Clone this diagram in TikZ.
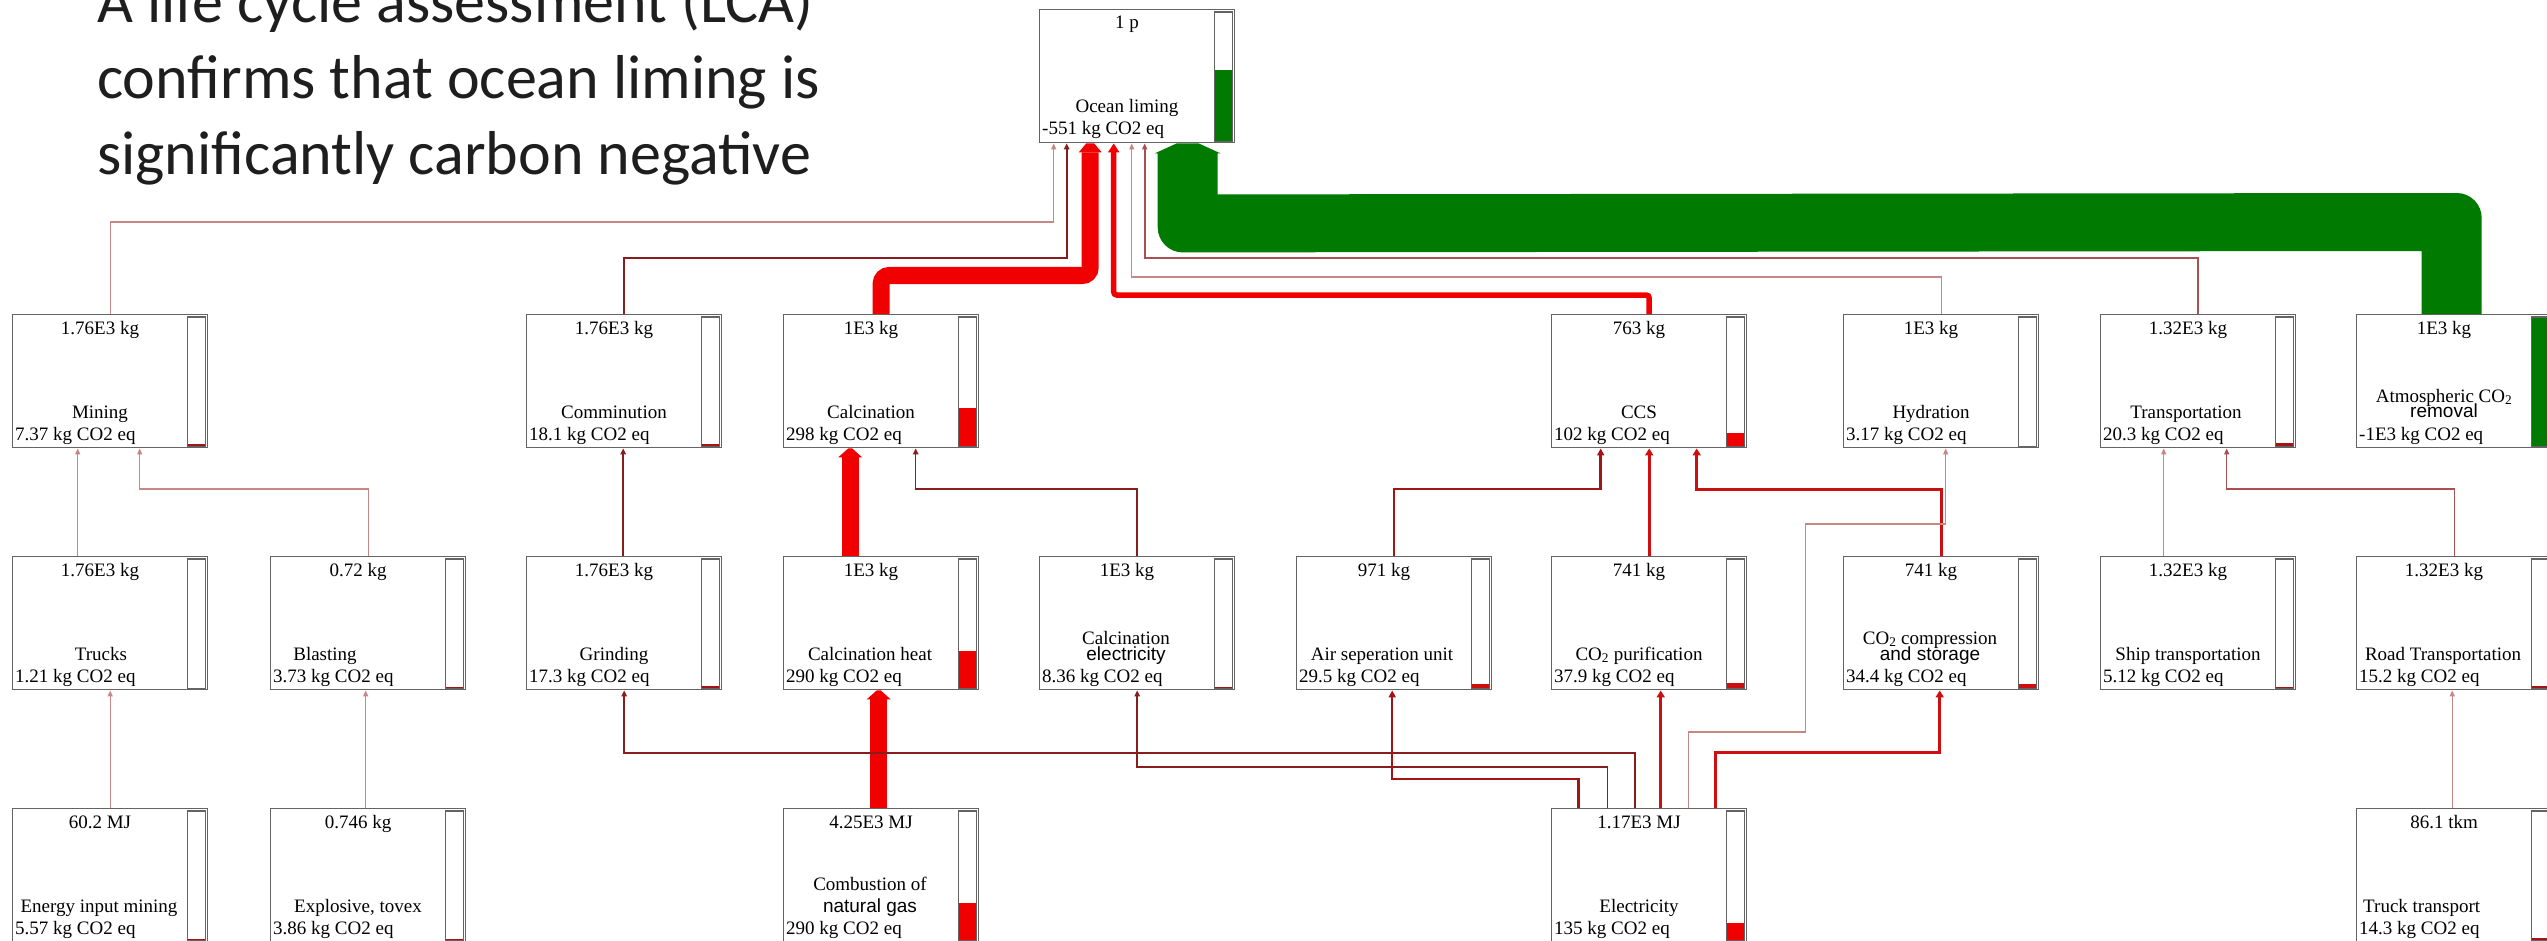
\documentclass[tikz,border=0pt]{standalone}
\usepackage{fontspec}
\setmainfont{Liberation Serif}
\newfontfamily\sansf{Liberation Sans}
\newfontfamily\titlef{Carlito}
\usetikzlibrary{calc,arrows.meta}

\definecolor{boxline}{RGB}{100,100,100}
\definecolor{lite}{RGB}{200,135,135}
\definecolor{midc}{RGB}{170,80,80}
\definecolor{darkc}{RGB}{135,30,30}
\definecolor{darkred}{RGB}{165,20,20}
\definecolor{redm}{RGB}{205,15,15}
\definecolor{redb}{RGB}{240,0,0}
\definecolor{grn}{RGB}{0,122,0}
\definecolor{titlec}{RGB}{30,30,30}

\tikzset{
  procbox/.style={draw=boxline, line width=1.4pt, fill=white, minimum width=195pt,
    minimum height=133pt, anchor=north west, inner sep=0pt},
  amt/.style={anchor=base, font=\fontsize{19}{22}\selectfont, inner sep=0pt},
  nm/.style={anchor=base, font=\fontsize{19}{22}\selectfont, inner sep=0pt},
  nms/.style={anchor=base, font=\sansf\fontsize{19}{22}\selectfont, inner sep=0pt},
  val/.style={anchor=base west, font=\fontsize{19}{22}\selectfont, inner sep=0pt},
  bar/.style={draw=boxline, line width=1.3pt, fill=white},
  ttl/.style={anchor=base west, font=\titlef\fontsize{62}{76}\selectfont, text=titlec, inner sep=0pt},
  flowlite/.style={draw=lite, line width=1.3pt, -{Triangle[length=6pt,width=5pt]}},
  flowmid/.style={draw=midc, line width=1.6pt, -{Triangle[length=6pt,width=5pt]}},
  flowdark/.style={draw=darkc, line width=1.8pt, -{Triangle[length=6pt,width=5.5pt]}},
  flowdr/.style={draw=darkred, line width=2.5pt, -{Triangle[length=7pt,width=7pt]}},
  flowred/.style={draw=redm, line width=3pt, -{Triangle[length=7pt,width=8pt]}},
  flowccs/.style={draw=redb, line width=5.5pt, rounded corners=3pt, -{Triangle[length=9pt,width=11pt]}},
  thickred/.style={draw=redb, line width=17pt},
}

\newcommand\procbox[7]{%
  \node[procbox] (#1) at (#2,#3) {};
  \draw[bar] ($(#1.north east)+(-21,3)$) rectangle ($(#1.south east)+(-3,-2)$);
  \ifdim #6pt>0pt
    \fill[#7] ($(#1.south east)+(-20.3,-2.5)$) rectangle ($(#1.south east)+(-3.7,{-2.5-#6})$);
  \fi
  \node[amt] (#1-a) at ($(#1.north west)+(88,20)$) {#4};
  \node[val] (#1-v) at ($(#1.north west)+(3,126)$) {#5};
}

\begin{document}
\begin{tikzpicture}[x=1pt,y=-1pt]
\useasboundingbox (0,0) rectangle (2547,941);
\clip (0,0) rectangle (2547,941);
\fill[white] (0,0) rectangle (2547,941);

% title
\node[ttl] (t1) at (97,23) {A life cycle assessment (LCA)};
\node[ttl] (t2) at (97,99) {confirms that ocean liming is};
\node[ttl] (t3) at (97,175) {significantly carbon negative};

% top box
\procbox{ocean}{1039}{9}{1 p}{-551 kg CO2 eq}{70.5}{grn}
\node[nm] (ocean-n) at ($(ocean.north west)+(88,104)$) {Ocean liming};

% row 1
\procbox{mining}{12}{314}{1.76E3 kg}{7.37 kg CO2 eq}{1.5}{darkred}
\node[nm] (mining-n) at ($(mining.north west)+(88,104)$) {Mining};
\procbox{comminution}{526}{314}{1.76E3 kg}{18.1 kg CO2 eq}{2.3}{darkred}
\node[nm] (comminution-n) at ($(comminution.north west)+(88,104)$) {Comminution};
\procbox{calcination}{783}{314}{1E3 kg}{298 kg CO2 eq}{38}{redb}
\node[nm] (calcination-n) at ($(calcination.north west)+(88,104)$) {Calcination};
\procbox{ccs}{1551}{314}{763 kg}{102 kg CO2 eq}{13}{redb}
\node[nm] (ccs-n) at ($(ccs.north west)+(88,104)$) {CCS};
\procbox{hydration}{1843}{314}{1E3 kg}{3.17 kg CO2 eq}{0}{darkred}
\node[nm] (hydration-n) at ($(hydration.north west)+(88,104)$) {Hydration};
\procbox{transport}{2100}{314}{1.32E3 kg}{20.3 kg CO2 eq}{2.6}{darkred}
\node[nm] (transport-n) at ($(transport.north west)+(86,104)$) {Transportation};
\procbox{atmos}{2356}{314}{1E3 kg}{-1E3 kg CO2 eq}{128}{grn}
\node[nm] (atmos-n) at ($(atmos.north west)+(88,88)$) {Atmospheric CO\textsubscript{2}};
\node[nms] (atmos-n2) at ($(atmos.north west)+(88,103)$) {removal};

% row 2
\procbox{trucks}{12}{556}{1.76E3 kg}{1.21 kg CO2 eq}{0}{darkred}
\node[nm] (trucks-n) at ($(trucks.north west)+(89,104)$) {Trucks};
\procbox{blasting}{270}{556}{0.72 kg}{3.73 kg CO2 eq}{1}{darkred}
\node[nm] (blasting-n) at ($(blasting.north west)+(55,104)$) {Blasting};
\procbox{grinding}{526}{556}{1.76E3 kg}{17.3 kg CO2 eq}{2.2}{darkred}
\node[nm] (grinding-n) at ($(grinding.north west)+(88,104)$) {Grinding};
\procbox{calcheat}{783}{556}{1E3 kg}{290 kg CO2 eq}{37}{redb}
\node[nm] (calcheat-n) at ($(calcheat.north west)+(87,104)$) {Calcination heat};
\procbox{calcelec}{1039}{556}{1E3 kg}{8.36 kg CO2 eq}{1.2}{darkred}
\node[nm] (calcelec-n) at ($(calcelec.north west)+(87,88)$) {Calcination};
\node[nms] (calcelec-n2) at ($(calcelec.north west)+(87,104)$) {electricity};
\procbox{airsep}{1296}{556}{971 kg}{29.5 kg CO2 eq}{3.8}{redm}
\node[nm] (airsep-n) at ($(airsep.north west)+(86,104)$) {Air seperation unit};
\procbox{co2purif}{1551}{556}{741 kg}{37.9 kg CO2 eq}{4.9}{redm}
\node[nm] (co2purif-n) at ($(co2purif.north west)+(88,104)$) {CO\textsubscript{2} purification};
\procbox{co2comp}{1843}{556}{741 kg}{34.4 kg CO2 eq}{4.4}{redm}
\node[nm] (co2comp-n) at ($(co2comp.north west)+(87,88)$) {CO\textsubscript{2} compression};
\node[nms] (co2comp-n2) at ($(co2comp.north west)+(87,104)$) {and storage};
\procbox{ship}{2100}{556}{1.32E3 kg}{5.12 kg CO2 eq}{1}{darkred}
\node[nm] (ship-n) at ($(ship.north west)+(88,104)$) {Ship transportation};
\procbox{road}{2356}{556}{1.32E3 kg}{15.2 kg CO2 eq}{2}{darkred}
\node[nm] (road-n) at ($(road.north west)+(87,104)$) {Road Transportation};

% row 3
\procbox{energy}{12}{808}{60.2 MJ}{5.57 kg CO2 eq}{1}{darkred}
\node[nm] (energy-n) at ($(energy.north west)+(87,104)$) {Energy input mining};
\procbox{explosive}{270}{808}{0.746 kg}{3.86 kg CO2 eq}{1}{darkred}
\node[nm] (explosive-n) at ($(explosive.north west)+(88,104)$) {Explosive, tovex};
\procbox{combustion}{783}{808}{4.25E3 MJ}{290 kg CO2 eq}{37}{redb}
\node[nm] (combustion-n) at ($(combustion.north west)+(87,82)$) {Combustion of};
\node[nms] (combustion-n2) at ($(combustion.north west)+(87,104)$) {natural gas};
\procbox{electricity}{1551}{808}{1.17E3 MJ}{135 kg CO2 eq}{17}{redb}
\node[nm] (electricity-n) at ($(electricity.north west)+(88,104)$) {Electricity};
\procbox{trucktr}{2356}{808}{86.1 tkm}{14.3 kg CO2 eq}{1.8}{darkred}
\node[nm, anchor=base west] (trucktr-n) at ($(trucktr.north west)+(7,104)$) {Truck transport};

% ---- connectors into Ocean liming
\draw[flowlite] (mining.north) -- ++(0,-92) -| ([xshift=-83.5pt]ocean.south);
\draw[flowdark] (comminution.north) -- ++(0,-56) -| ([xshift=-70.5pt]ocean.south);
\draw[thickred, rounded corners=8pt] (calcination.north) -- ++(0,-38.5) -| ([xshift=-47pt,yshift=-9pt]ocean.south);
\fill[redb] ([xshift=-58.5pt,yshift=-9pt]ocean.south) -- ([xshift=-51pt]ocean.south) -- ([xshift=-43pt]ocean.south) -- ([xshift=-35.5pt,yshift=-9pt]ocean.south) -- cycle;
\draw[flowccs] (ccs.north) -- ++(0,-19) -| ([xshift=-23.5pt]ocean.south);
\draw[flowlite] (hydration.north) -- ++(0,-37) -| ([xshift=-5.5pt]ocean.south);
\draw[flowmid] (transport.north) -- ++(0,-56) -| ([xshift=7.5pt]ocean.south);
\fill[grn] ($(ocean.south)+(20.5,10)$) -- ($(ocean.south)+(17.5,10)$) -- ($(ocean.south)+(39.5,0)$)
  -- ($(ocean.south)+(61.5,0)$) -- ($(ocean.south)+(83.5,10)$) -- ($(ocean.south)+(80.5,10)$)
  -- ($(ocean.south)+(80.5,51)$) -- ($(atmos.north)+(2.5,-121)$) arc[start angle=90,end angle=0,radius=25pt]
  -- ($(atmos.north)+(27.5,0)$) -- ($(atmos.north)+(-32.5,0)$) -- ($(atmos.north)+(-32.5,-63)$)
  -- ($(ocean.south)+(45.5,109)$) arc[start angle=270,end angle=180,radius=25pt] -- cycle;

% ---- row 2 -> row 1
\draw[flowlite] ([xshift=-32.5pt]trucks.north) -- ([xshift=-32.5pt]mining.south);
\draw[flowlite] (blasting.north) -- ++(0,-67) -| ([xshift=29.5pt]mining.south);
\draw[flowdark] ([xshift=-1pt]grinding.north) -- ([xshift=-1pt]comminution.south);
\draw[thickred] ([xshift=-31pt]calcheat.north) -- ([xshift=-31pt,yshift=-9pt]calcination.south);
\fill[redb] ([xshift=-43pt,yshift=-9pt]calcination.south) -- ([xshift=-33pt]calcination.south) -- ([xshift=-29pt]calcination.south) -- ([xshift=-19pt,yshift=-9pt]calcination.south) -- cycle;
\draw[flowdark, line width=1.5pt] (calcelec.north) -- ++(0,-67) -| ([xshift=34.5pt]calcination.south);
\draw[flowdr] (airsep.north) -- ++(0,-67) -| ([xshift=-48.5pt]ccs.south);
\draw[flowred] (co2purif.north) -- (ccs.south);
\draw[flowred] (co2comp.north) -- ++(0,-67) -| ([xshift=47.5pt]ccs.south);
\draw[flowlite] ([xshift=-34.5pt]ship.north) -- ([xshift=-34.5pt]transport.south);
\draw[flowmid, line width=1.4pt] (road.north) -- ++(0,-67) -| ([xshift=28.5pt]transport.south);

% ---- row 3 -> row 2
\draw[flowlite] (energy.north) -- (trucks.south);
\draw[flowlite] ([xshift=-2.5pt]explosive.north) -- ([xshift=-2.5pt]blasting.south);
\draw[thickred] ([xshift=-2.5pt]combustion.north) -- ([xshift=-2.5pt,yshift=-9pt]calcheat.south);
\fill[redb] ([xshift=-14.5pt,yshift=-9pt]calcheat.south) -- ([xshift=-4.5pt]calcheat.south) -- ([xshift=-0.5pt]calcheat.south) -- ([xshift=9.5pt,yshift=-9pt]calcheat.south) -- cycle;
\draw[flowdark] ([xshift=-14.5pt]electricity.north) -- ++(0,-55) -| (grinding.south);
\draw[flowdark, line width=1.5pt] ([xshift=-41.5pt]electricity.north) -- ++(0,-41) -| (calcelec.south);
\draw[flowdr] ([xshift=-70.5pt]electricity.north) -- ++(0,-29) -| ([xshift=-2pt]airsep.south);
\draw[flowred] ([xshift=11.5pt]electricity.north) -- ([xshift=11.5pt]co2purif.south);
\draw[flowlite] ([xshift=39.5pt]electricity.north) -- ++(0,-76) -- ++(117,0) -- ++(0,-208) -| ([xshift=4.5pt]hydration.south);
\draw[flowred] ([xshift=66.5pt]electricity.north) -- ++(0,-56) -| ([xshift=-1.5pt]co2comp.south);
\draw[flowlite] ([xshift=-2pt]trucktr.north) -- ([xshift=-2pt]road.south);
\end{tikzpicture}
\end{document}
